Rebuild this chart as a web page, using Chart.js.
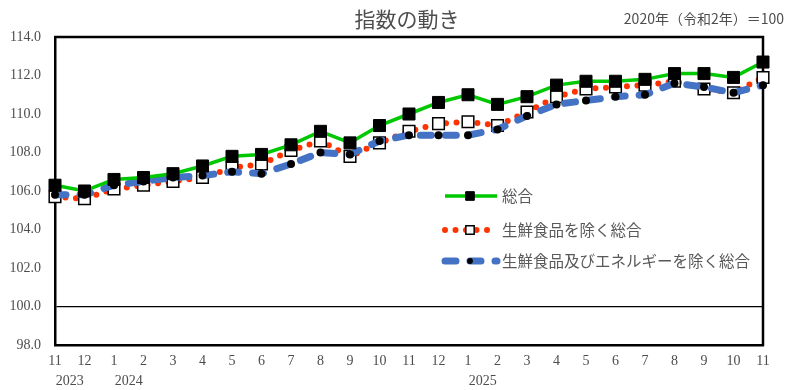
<!DOCTYPE html>
<html lang="ja">
<head>
<meta charset="utf-8">
<script src="https://cdn.jsdelivr.net/npm/chart.js@4.4.1/dist/chart.umd.min.js"></script>
<style>
  html, body { margin: 0; padding: 0; background: #fff; }
  #wrap { width: 787px; height: 390px; position: relative; }
</style>
</head>
<body>
<div id="wrap"><canvas id="cpi-chart"></canvas></div>
<script>
// 月次 (year-month)
const categories = [
    '2023-11', '2023-12',
    '2024-1', '2024-2', '2024-3', '2024-4', '2024-5', '2024-6',
    '2024-7', '2024-8', '2024-9', '2024-10', '2024-11', '2024-12',
    '2025-1', '2025-2', '2025-3', '2025-4', '2025-5', '2025-6',
    '2025-7', '2025-8', '2025-9', '2025-10', '2025-11'
];

const seriesNames = ['総合', '生鮮食品を除く総合', '生鮮食品及びエネルギーを除く総合'];

const allItems = [106.3, 106.0, 106.6, 106.7, 106.9, 107.3, 107.8, 107.9, 108.4, 109.1, 108.5, 109.4,
    110.0, 110.6, 111.0, 110.5, 110.9, 111.5, 111.7, 111.7, 111.8, 112.1, 112.1, 111.9, 112.7];
const exFresh = [105.7, 105.6, 106.1, 106.3, 106.5, 106.7, 107.2, 107.4, 108.1, 108.6, 107.8, 108.5,
    109.1, 109.5, 109.6, 109.4, 110.1, 110.9, 111.3, 111.4, 111.5, 111.7, 111.3, 111.1, 111.9];
const exFreshEnergy = [105.8, 105.8, 106.3, 106.5, 106.7, 106.8, 107.0, 106.9, 107.4, 108.0, 107.9, 108.6,
    108.9, 108.9, 108.9, 109.2, 109.9, 110.5, 110.7, 110.9, 111.0, 111.6, 111.4, 111.1, 111.5];

const yMin = 98, yMax = 114, yStep = 2;
const titleText = '指数の動き';
const baseText = '2020年（令和2年）＝100';

const numFont = "'Liberation Serif', 'DejaVu Serif', serif";
const jpFont = "'Noto Sans CJK JP', sans-serif";
const textColor = '#4d4d4d';

const monthOf = c => c.split('-')[1];
const yearOf = c => c.split('-')[0];

// top + right frame lines
const framePlugin = {
    id: 'frame',
    beforeDatasetsDraw(chart) {
        const { ctx, chartArea: a } = chart;
        ctx.save();
        ctx.strokeStyle = '#000';
        ctx.lineWidth = 2.5;
        ctx.beginPath();
        ctx.moveTo(a.left - 1, a.top);
        ctx.lineTo(a.right, a.top);
        ctx.lineTo(a.right, a.bottom + 1);
        ctx.stroke();
        ctx.restore();
    }
};

// title, base note, year labels and the legend
const textPlugin = {
    id: 'texts',
    afterDraw(chart) {
        const { ctx } = chart;
        const xs = chart.scales.x;
        ctx.save();
        ctx.fillStyle = textColor;
        ctx.textBaseline = 'middle';

        ctx.font = `21px ${jpFont}`;
        ctx.textAlign = 'center';
        ctx.fillText(titleText, 407, 19);

        ctx.font = `14px ${jpFont}`;
        ctx.textAlign = 'right';
        ctx.fillText(baseText, 784, 19);

        // years, half a step right of the first month of each year
        ctx.font = `14px ${numFont}`;
        ctx.textAlign = 'center';
        let prev = null;
        categories.forEach((c, i) => {
            const y = yearOf(c);
            if (y !== prev) {
                ctx.fillText(y, xs.getPixelForValue(i + 0.5), 381);
                prev = y;
            }
        });

        // legend (smaller markers than on the plot)
        const rows = [196, 230, 261];
        const x0 = 445, x1 = 497;
        chart.data.datasets.forEach((ds, i) => {
            const y = rows[i];
            ctx.save();
            ctx.strokeStyle = ds.borderColor;
            ctx.lineWidth = ds.borderWidth;
            ctx.lineCap = ds.borderCapStyle || 'butt';
            ctx.setLineDash(ds.borderDash || []);
            ctx.beginPath();
            ctx.moveTo(x0, y);
            ctx.lineTo(x1, y);
            ctx.stroke();
            ctx.restore();

            ctx.save();
            ctx.fillStyle = ds.pointBackgroundColor;
            ctx.strokeStyle = ds.pointBorderColor;
            ctx.lineWidth = ds.pointBorderWidth;
            Chart.helpers.drawPoint(ctx, {
                pointStyle: ds.pointStyle,
                radius: ds.pointRadius * 0.72,
                rotation: 0,
                borderWidth: ds.pointBorderWidth
            }, (x0 + x1) / 2 - 1, y);
            ctx.restore();

            ctx.font = `15.5px ${jpFont}`;
            ctx.fillStyle = '#595959';
            ctx.textAlign = 'left';
            ctx.fillText(ds.label, x1 + 5, y);
        });
        ctx.restore();
    }
};

const ctx = document.getElementById('cpi-chart').getContext('2d');

const chart = new Chart(ctx, {
    type: 'line',
    data: {
        labels: categories,
        datasets: [{
            label: seriesNames[0],
            data: allItems,
            order: 0,
            borderColor: '#00c800',
            borderWidth: 3.5,
            pointStyle: 'rect',
            pointRadius: 8.5,
            pointBackgroundColor: '#000',
            pointBorderColor: '#000',
            pointBorderWidth: 1,
            clip: false
        }, {
            label: seriesNames[1],
            data: exFresh,
            order: 2,
            borderColor: '#ff3300',
            borderWidth: 6,
            borderDash: [0, 10.5],
            borderCapStyle: 'round',
            pointStyle: 'rect',
            pointRadius: 8.2,
            pointBackgroundColor: '#fff',
            pointBorderColor: '#000',
            pointBorderWidth: 1.5,
            clip: false
        }, {
            label: seriesNames[2],
            data: exFreshEnergy,
            order: 1,
            borderColor: '#4472c4',
            borderWidth: 7,
            borderDash: [11, 14],
            borderCapStyle: 'round',
            pointStyle: 'circle',
            pointRadius: 4,
            pointBackgroundColor: '#000',
            pointBorderColor: '#000',
            pointBorderWidth: 0,
            clip: false
        }]
    },
    options: {
        responsive: true,
        maintainAspectRatio: false,
        animation: false,
        devicePixelRatio: 1,
        layout: { padding: { top: 37, right: 24, left: 0, bottom: 0 } },
        elements: { line: { tension: 0 } },
        plugins: {
            legend: { display: false },
            title: { display: false },
            tooltip: { enabled: false }
        },
        scales: {
            x: {
                offset: false,
                grid: { display: false, drawTicks: false },
                border: { color: '#000', width: 2.5 },
                ticks: {
                    autoSkip: false,
                    maxRotation: 0,
                    padding: 8,
                    color: textColor,
                    font: { family: numFont, size: 14 },
                    callback: (v, i) => monthOf(categories[i])
                },
                afterFit: s => { s.height = 45; }
            },
            y: {
                min: yMin,
                max: yMax,
                grid: {
                    drawTicks: false,
                    lineWidth: 1.2,
                    color: c => (c.tick && c.tick.value === 100) ? '#000' : 'rgba(0,0,0,0)'
                },
                border: { color: '#000', width: 2.5 },
                ticks: {
                    stepSize: yStep,
                    padding: 14,
                    color: textColor,
                    font: { family: numFont, size: 14 },
                    callback: v => v.toFixed(1)
                },
                afterFit: s => { s.width = 55; }
            }
        }
    },
    plugins: [framePlugin, textPlugin]
});
</script>
</body>
</html>
